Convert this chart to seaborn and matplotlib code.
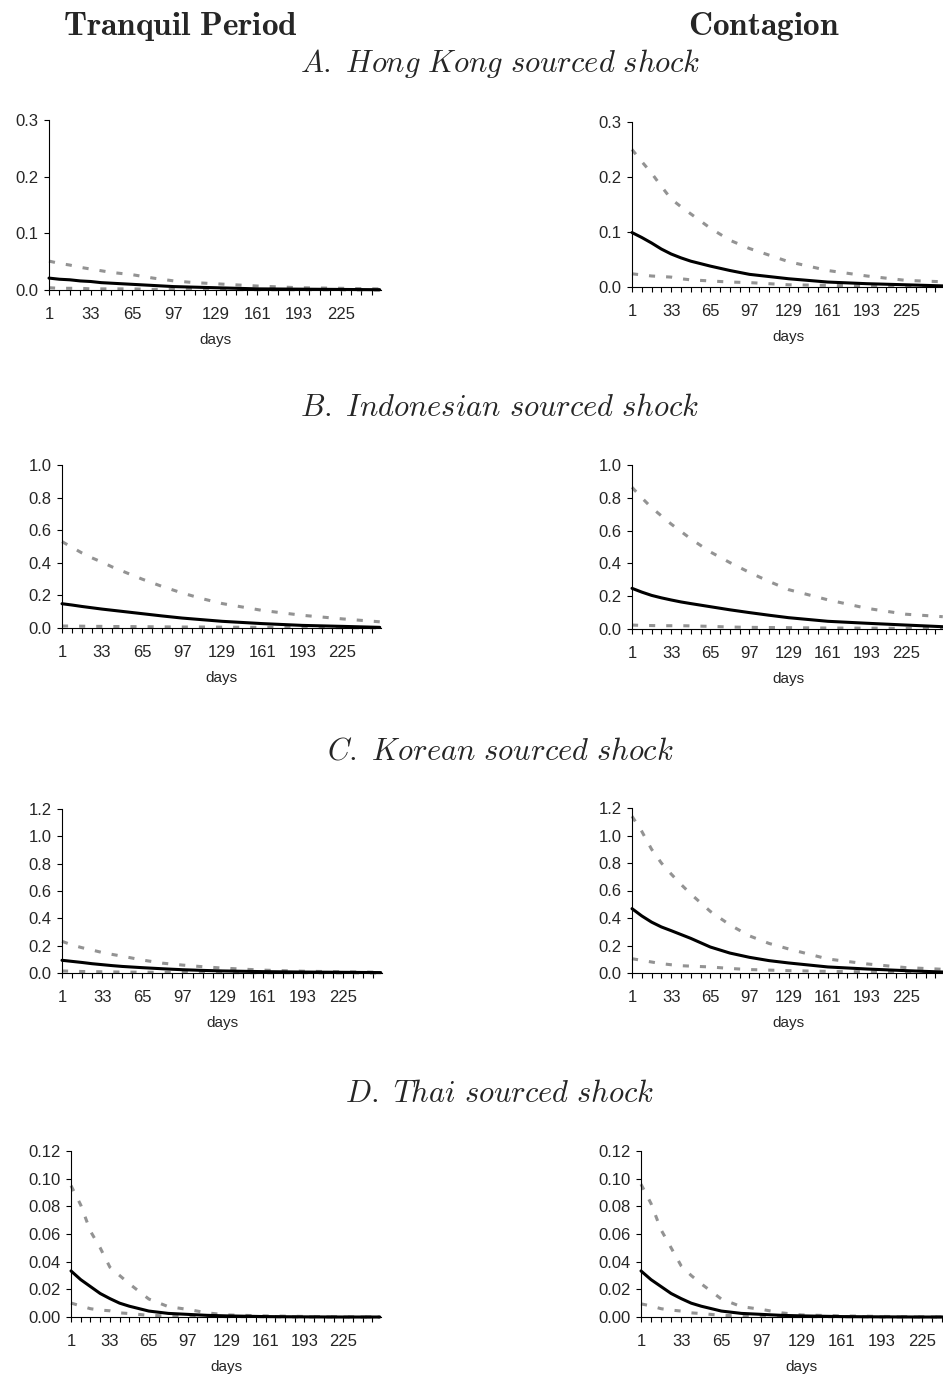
import numpy as np
import pandas as pd
import matplotlib
matplotlib.use("Agg")
import matplotlib.pyplot as plt
import seaborn as sns

# --- DATA ---
DAYS = [1, 9, 17, 25, 33, 41, 49, 65, 81, 97, 113, 129, 161, 193, 225, 255]

HK_TRANQ_MID = [0.021, 0.019, 0.018, 0.016, 0.015, 0.013, 0.012, 0.010, 0.008, 0.006, 0.005, 0.004, 0.002, 0.0015, 0.001, 0.0005]
HK_TRANQ_UP = [0.051, 0.047, 0.044, 0.040, 0.037, 0.034, 0.031, 0.027, 0.021, 0.016, 0.013, 0.011, 0.007, 0.004, 0.003, 0.002]
HK_TRANQ_LO = [0.004, 0.003, 0.003, 0.003, 0.002, 0.002, 0.002, 0.002, 0.001, 0.001, 0.001, 0.001, 0.0005, 0.0005, 0.0003, 0.0002]

HK_CONT_MID = [0.099, 0.090, 0.080, 0.069, 0.060, 0.053, 0.047, 0.038, 0.030, 0.023, 0.019, 0.015, 0.009, 0.006, 0.004, 0.002]
HK_CONT_UP = [0.250, 0.228, 0.207, 0.183, 0.160, 0.146, 0.133, 0.107, 0.085, 0.070, 0.058, 0.046, 0.030, 0.020, 0.012, 0.0095]
HK_CONT_LO = [0.024, 0.022, 0.020, 0.019, 0.018, 0.015, 0.013, 0.011, 0.009, 0.008, 0.006, 0.004, 0.003, 0.002, 0.0015, 0.001]

ID_TRANQ_MID = [0.149, 0.141, 0.132, 0.124, 0.116, 0.109, 0.102, 0.088, 0.074, 0.061, 0.051, 0.041, 0.027, 0.016, 0.010, 0.004]
ID_TRANQ_UP = [0.530, 0.495, 0.460, 0.430, 0.404, 0.375, 0.350, 0.300, 0.255, 0.215, 0.180, 0.150, 0.108, 0.078, 0.056, 0.038]
ID_TRANQ_LO = [0.012, 0.012, 0.011, 0.010, 0.010, 0.009, 0.009, 0.008, 0.007, 0.006, 0.006, 0.005, 0.004, 0.003, 0.002, 0.001]

ID_CONT_MID = [0.248, 0.225, 0.205, 0.190, 0.177, 0.165, 0.155, 0.136, 0.117, 0.100, 0.084, 0.069, 0.047, 0.035, 0.024, 0.014]
ID_CONT_UP = [0.864, 0.800, 0.740, 0.690, 0.640, 0.595, 0.550, 0.470, 0.405, 0.345, 0.290, 0.240, 0.178, 0.126, 0.090, 0.075]
ID_CONT_LO = [0.024, 0.022, 0.021, 0.020, 0.020, 0.020, 0.019, 0.016, 0.012, 0.010, 0.009, 0.008, 0.006, 0.005, 0.004, 0.003]

KR_TRANQ_MID = [0.093, 0.085, 0.077, 0.068, 0.061, 0.054, 0.048, 0.039, 0.031, 0.024, 0.019, 0.015, 0.010, 0.007, 0.005, 0.003]
KR_TRANQ_UP = [0.232, 0.205, 0.185, 0.168, 0.150, 0.136, 0.123, 0.095, 0.072, 0.058, 0.046, 0.036, 0.021, 0.013, 0.009, 0.006]
KR_TRANQ_LO = [0.015, 0.013, 0.011, 0.010, 0.009, 0.008, 0.007, 0.006, 0.005, 0.004, 0.004, 0.003, 0.002, 0.002, 0.001, 0.001]

KR_CONT_MID = [0.468, 0.415, 0.370, 0.335, 0.308, 0.280, 0.252, 0.189, 0.145, 0.114, 0.090, 0.073, 0.044, 0.029, 0.017, 0.007]
KR_CONT_UP = [1.140, 1.030, 0.900, 0.800, 0.720, 0.645, 0.575, 0.448, 0.350, 0.270, 0.215, 0.175, 0.102, 0.066, 0.039, 0.027]
KR_CONT_LO = [0.104, 0.092, 0.080, 0.068, 0.060, 0.053, 0.050, 0.044, 0.033, 0.025, 0.021, 0.017, 0.012, 0.009, 0.006, 0.004]

TH_TRANQ_MID = [0.0333, 0.027, 0.022, 0.017, 0.0133, 0.010, 0.0078, 0.0043, 0.0026, 0.0019, 0.0012, 0.0008, 0.0003, 0.0001, 0.0, 0.0]
TH_TRANQ_UP = [0.095, 0.081, 0.062, 0.050, 0.036, 0.030, 0.024, 0.013, 0.0075, 0.0055, 0.003, 0.0015, 0.0008, 0.0004, 0.0002, 0.0001]
TH_TRANQ_LO = [0.0101, 0.008, 0.006, 0.005, 0.0045, 0.003, 0.0025, 0.0012, 0.0008, 0.0006, 0.0004, 0.0003, 0.0002, 0.0001, 0.0, 0.0]

TH_CONT_MID = [0.0333, 0.027, 0.022, 0.017, 0.0133, 0.010, 0.0078, 0.0043, 0.0026, 0.0019, 0.0012, 0.0008, 0.0003, 0.0001, 0.0, 0.0]
TH_CONT_UP = [0.096, 0.082, 0.063, 0.050, 0.037, 0.030, 0.024, 0.013, 0.0075, 0.0055, 0.003, 0.0015, 0.0008, 0.0004, 0.0002, 0.0001]
TH_CONT_LO = [0.0095, 0.008, 0.006, 0.005, 0.0043, 0.003, 0.0025, 0.0012, 0.0008, 0.0006, 0.0004, 0.0003, 0.0002, 0.0001, 0.0, 0.0]

PANEL_TITLES = [
    r"$\mathit{A.\ Hong\ Kong\ sourced\ shock}$",
    r"$\mathit{B.\ Indonesian\ sourced\ shock}$",
    r"$\mathit{C.\ Korean\ sourced\ shock}$",
    r"$\mathit{D.\ Thai\ sourced\ shock}$",
]
COLUMN_TITLES = [r"$\mathbf{Tranquil\ Period}$", r"$\mathbf{Contagion}$"]

Y_TICKS = [
    [0.0, 0.1, 0.2, 0.3],
    [0.0, 0.2, 0.4, 0.6, 0.8, 1.0],
    [0.0, 0.2, 0.4, 0.6, 0.8, 1.0, 1.2],
    [0.00, 0.02, 0.04, 0.06, 0.08, 0.10, 0.12],
]
Y_FORMAT = ["%.1f", "%.1f", "%.1f", "%.2f"]
X_LABEL_DAYS = [1, 33, 65, 97, 129, 161, 193, 225]

SERIES = [
    [(HK_TRANQ_MID, HK_TRANQ_UP, HK_TRANQ_LO), (HK_CONT_MID, HK_CONT_UP, HK_CONT_LO)],
    [(ID_TRANQ_MID, ID_TRANQ_UP, ID_TRANQ_LO), (ID_CONT_MID, ID_CONT_UP, ID_CONT_LO)],
    [(KR_TRANQ_MID, KR_TRANQ_UP, KR_TRANQ_LO), (KR_CONT_MID, KR_CONT_UP, KR_CONT_LO)],
    [(TH_TRANQ_MID, TH_TRANQ_UP, TH_TRANQ_LO), (TH_CONT_MID, TH_CONT_UP, TH_CONT_LO)],
]

# --- LAYOUT (pixel boxes: left, top, right, bottom) ---
W, H = 943, 1380
BOXES = [
    [(49, 120, 381, 290), (632, 122, 944, 287)],
    [(62, 465, 381, 628), (632, 465, 944, 629)],
    [(62, 809, 382, 973), (632, 808, 944, 973)],
    [(71, 1151, 381, 1317), (641, 1151, 961, 1317)],
]
PANEL_TITLE_Y = [72, 416, 759, 1102]
BAND_GREY = "#939393"

sns.set_style("ticks")
plt.rcParams["font.family"] = ["Liberation Sans", "DejaVu Sans"]
plt.rcParams["mathtext.fontset"] = "cm"

fig = plt.figure(figsize=(W / 100, H / 100), dpi=100)


def px_axes(box):
    l, t, r, b = box
    return fig.add_axes([l / W, 1 - b / H, (r - l) / W, (b - t) / H])


for row in range(4):
    for col in range(2):
        ax = px_axes(BOXES[row][col])
        mid, up, lo = SERIES[row][col]
        df = pd.DataFrame({"day": DAYS, "mid": mid, "up": up, "lo": lo})

        for band in ["up", "lo"]:
            sns.lineplot(data=df, x="day", y=band, ax=ax, color=BAND_GREY,
                         linewidth=2.2, linestyle=(0, (2.0, 3.6)), clip_on=False)
        sns.lineplot(data=df, x="day", y="mid", ax=ax, color="black",
                     linewidth=2.2, clip_on=False)

        ticks = Y_TICKS[row]
        ax.set_ylim(0, ticks[-1])
        ax.set_yticks(ticks)
        ax.set_yticklabels([Y_FORMAT[row] % t for t in ticks], fontsize=12)
        ax.set_xlim(1, 256)
        ax.set_xticks(X_LABEL_DAYS)
        ax.set_xticklabels([str(d) for d in X_LABEL_DAYS], fontsize=12)
        ax.set_xticks(list(range(1, 257, 8)), minor=True)
        ax.tick_params(axis="both", which="both", direction="out", length=3.5,
                       width=0.8, color="black", pad=4)
        ax.tick_params(axis="x", which="major", pad=9)

        sns.despine(ax=ax)
        for side in ["left", "bottom"]:
            ax.spines[side].set_linewidth(0.8)
            ax.spines[side].set_color("black")
        ax.set_ylabel("")
        ax.set_xlabel("days", fontsize=11, labelpad=8)
        ax.set_facecolor("none")

    fig.text(500 / W, 1 - PANEL_TITLE_Y[row] / H, PANEL_TITLES[row],
             ha="center", va="baseline", fontsize=22)

fig.text(180 / W, 1 - 35 / H, COLUMN_TITLES[0], ha="center", va="baseline", fontsize=24)
fig.text(764 / W, 1 - 35 / H, COLUMN_TITLES[1], ha="center", va="baseline", fontsize=24)

fig.savefig("out.png", dpi=100, facecolor="white")
plt.close(fig)
